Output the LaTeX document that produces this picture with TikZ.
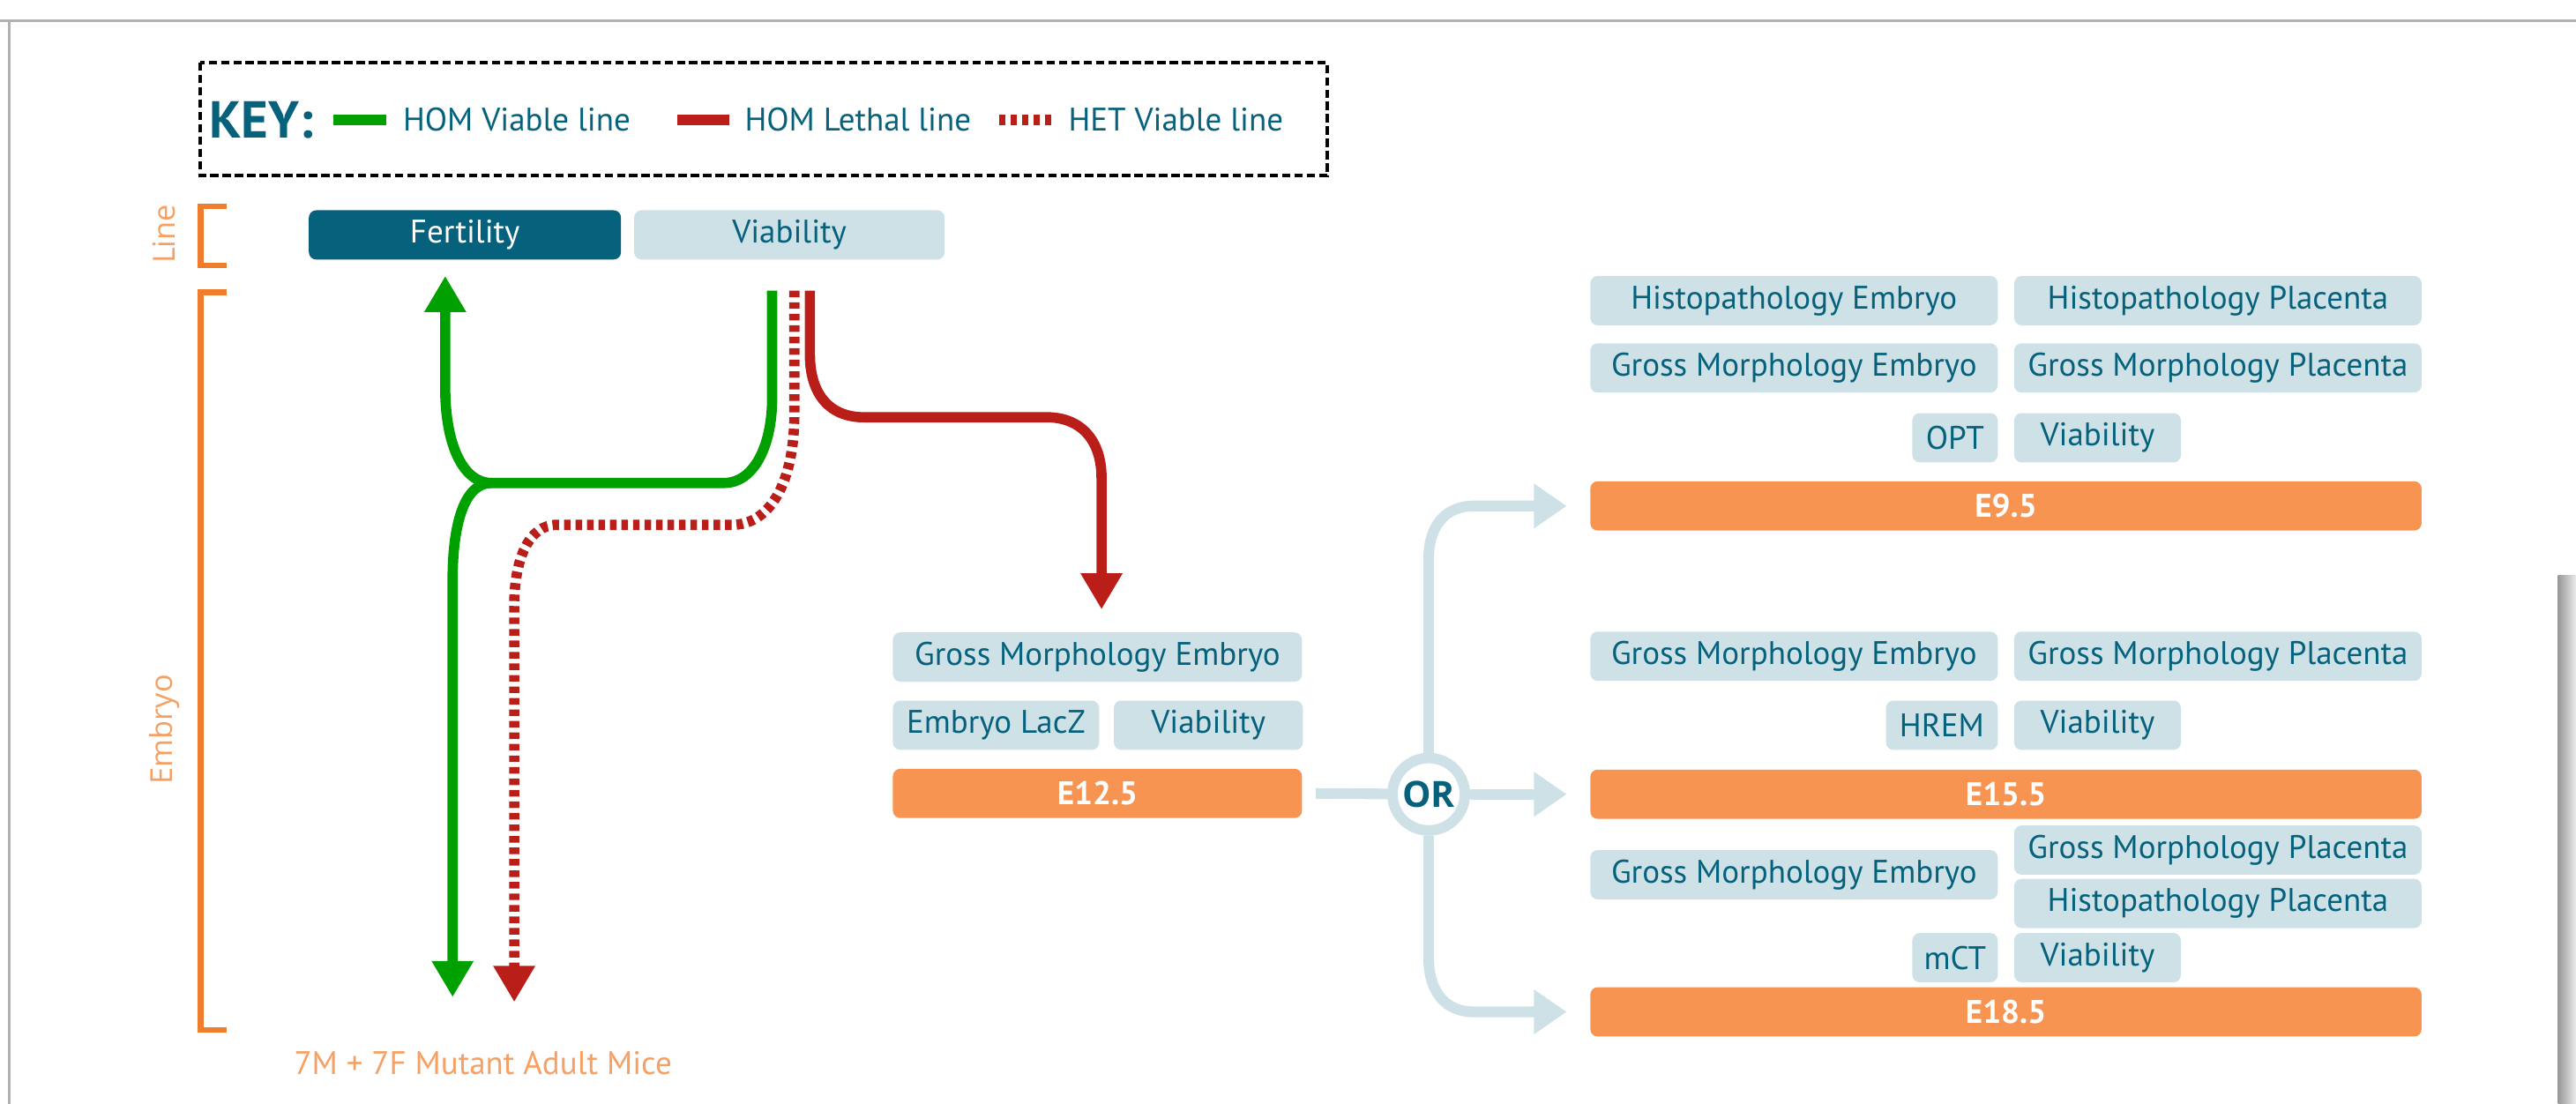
\documentclass[tikz,border=0pt]{standalone}
\usepackage{fontspec}
\setmainfont{PT Sans}
\newfontfamily\sidefont{Open Sans}
\usetikzlibrary{arrows.meta,positioning}

\definecolor{impcteal}{RGB}{6,98,124}
\definecolor{impcpale}{RGB}{206,225,230}
\definecolor{impcorange}{RGB}{247,148,82}
\definecolor{impcbracket}{RGB}{240,125,45}
\definecolor{impclabel}{RGB}{246,160,100}
\definecolor{homgreen}{RGB}{0,160,0}
\definecolor{homred}{RGB}{185,30,25}
\newcommand{\impcfont}{\fontsize{11.3}{13.6}\selectfont}

\begin{document}
\begin{tikzpicture}[x=0.2mm, y=-0.2mm,
    assay/.style={fill=impcpale, text=impcteal, rounded corners=0.9mm,
      minimum height=6mm, inner sep=0pt, font=\impcfont},
    wide/.style={assay, minimum width=49.6mm},
    stagebar/.style={assay, fill=impcorange, text=white, minimum width=101.2mm,
      font=\impcfont\bfseries},
    keytext/.style={anchor=west, inner sep=0pt, text=impcteal, font=\impcfont},
    sidelabel/.style={rotate=90, text=impclabel, font=\sidefont\fontsize{10.5}{12}\selectfont},
    brkt/.style={impcbracket, line width=0.7mm},
    flowline/.style={line width=1.25mm},
    flowtip/.style={-{Triangle[width=4.8mm,length=4.4mm]}},
    homv/.style={flowline, homgreen},
    homl/.style={flowline, homred},
    hetv/.style={flowline, homred, dash pattern=on 0.8mm off 0.6mm},
    orline/.style={impcpale, line width=1.3mm},
    ortip/.style={-{Triangle[width=5.2mm,length=4mm]}},
    ornode/.style={circle, draw=impcpale, line width=1.26mm, fill=white, minimum size=8.8mm,
      inner sep=0pt, text=impcteal, font=\sidefont\bfseries\fontsize{12.5}{14}\selectfont}]
  \useasboundingbox (0,0) rectangle (1568,672);
  \draw[gray!60, line width=0.35mm] (0,12.5) -- (1568,12.5) (5.5,12.5) -- (5.5,672);
  \shade[left color=gray!80, right color=gray!15] (1557,350) rectangle (1568,672);

  % key
  \draw[line width=0.4mm, dash pattern=on 1mm off 0.5mm] (122,38) rectangle (808,107);
  \node[keytext, font=\fontsize{18}{20}\selectfont\bfseries] (key) at (127,73) {KEY:};
  \node[keytext] (kv) at (245,73) {HOM Viable line};
  \node[keytext] (kl) at (453,73) {HOM Lethal line};
  \node[keytext] (kh) at (650,73) {HET Viable line};
  \draw[homv] ([xshift=-2mm]kv.west) -- ++(-6.4mm,0);
  \draw[homl] ([xshift=-1.8mm]kl.west) -- ++(-6.4mm,0);
  \draw[hetv] ([xshift=-2mm]kh.west) -- ++(-6.6mm,0);

  % brackets
  \draw[brkt] (138,125.5) -- (122,125.5) -- (122,161.5) -- (138,161.5);
  \draw[brkt] (138,178) -- (122,178) -- (122,627) -- (138,627);
  \node[sidelabel] (linelbl) at (100,142.5) {Line};
  \node[sidelabel] (embryolbl) at (100,444) {Embryo};

  \node[assay, fill=impcteal, text=white, minimum width=38mm] (fert) at (283,143) {Fertility};
  \node[assay, minimum width=37.8mm] (via) at (480.5,143) {Viability};
  \node[text=impclabel, font=\impcfont] (adult) at (294,647) {7M + 7F Mutant Adult Mice};

  % E12.5
  \node[wide, minimum width=49.8mm] (gme12) at (668,400) {Gross Morphology Embryo};
  \node[assay, minimum width=25.1mm] (lacz12) at (606.25,441.5) {Embryo LacZ};
  \node[assay, minimum width=23mm] (via12) at (735.5,441.5) {Viability};
  \node[stagebar, minimum width=49.8mm] (e12) at (668,483) {E12.5};

  % E9.5
  \node[wide] (hpe9) at (1092,183) {Histopathology Embryo};
  \node[wide] (hpp9) at (1350,183) {Histopathology Placenta};
  \node[wide] (gme9) at (1092,224) {Gross Morphology Embryo};
  \node[wide] (gmp9) at (1350,224) {Gross Morphology Placenta};
  \node[assay, minimum width=10.4mm] (opt9) at (1190,266.5) {OPT};
  \node[assay, minimum width=20.3mm] (via9) at (1276.75,266.5) {Viability};
  \node[stagebar] (e9) at (1221,308) {E9.5};

  % E15.5
  \node[wide] (gme15) at (1092,399.5) {Gross Morphology Embryo};
  \node[wide] (gmp15) at (1350,399.5) {Gross Morphology Placenta};
  \node[assay, minimum width=13.6mm] (hrem15) at (1182,441.5) {HREM};
  \node[assay, minimum width=20.3mm] (via15) at (1276.75,441.5) {Viability};
  \node[stagebar] (e15) at (1221,483.5) {E15.5};

  % E18.5
  \node[wide] (gme18) at (1092,532.5) {Gross Morphology Embryo};
  \node[wide] (gmp18) at (1350,517.5) {Gross Morphology Placenta};
  \node[wide] (hpp18) at (1350,550) {Histopathology Placenta};
  \node[assay, minimum width=10.4mm] (mct18) at (1190,583) {mCT};
  \node[assay, minimum width=20.3mm] (via18) at (1276.75,583) {Viability};
  \node[stagebar] (e18) at (1221,616) {E18.5};

  \coordinate (fork) at (299,294);
  \coordinate (fertend) at (271,168);
  \coordinate (homend) at (275.5,607);
  \coordinate (hetend) at (313,610);
  \coordinate (lethend) at (670.5,371);

  \draw[homv] (470,177) -- (470,242) .. controls (470,273) and (458,294) .. (441,294) -- (fork);
  \draw[homv, flowtip] (fork) .. controls (282,294) and (271,271) .. (271,236) -- (fertend);
  \draw[homv, flowtip] (fork) .. controls (283,294) and (275.5,318) .. (275.5,353) -- (homend);
  \draw[hetv, flowtip] (483.5,177) -- (483.5,252) .. controls (483.5,295) and (468,319.5) .. (445.6,319.5)
    -- (338.8,319.5) .. controls (322,319.5) and (313,340) .. (313,369) -- (hetend);
  \draw[homl, flowtip] (493,177) -- (493,216) .. controls (493,240) and (505,254) .. (525.7,254)
    -- (637,254) .. controls (658,254) and (670.5,268) .. (670.5,291) -- (lethend);

  % OR
  \node[ornode] (or) at (869.6,483.5) {OR};
  \draw[orline] ([xshift=1.6mm]e12.east) -- (or);
  \draw[orline, ortip] (or) -- ([xshift=-2.8mm]e15.west);
  \draw[orline, ortip] (or) -- (869.6,340) .. controls (869.6,320) and (880,308) .. (897,308) -- ([xshift=-2.8mm]e9.west);
  \draw[orline, ortip] (or) -- (869.6,583) .. controls (869.6,604) and (880,616) .. (897,616) -- ([xshift=-2.8mm]e18.west);
  \node[ornode] at (or) {OR};
\end{tikzpicture}
\end{document}
